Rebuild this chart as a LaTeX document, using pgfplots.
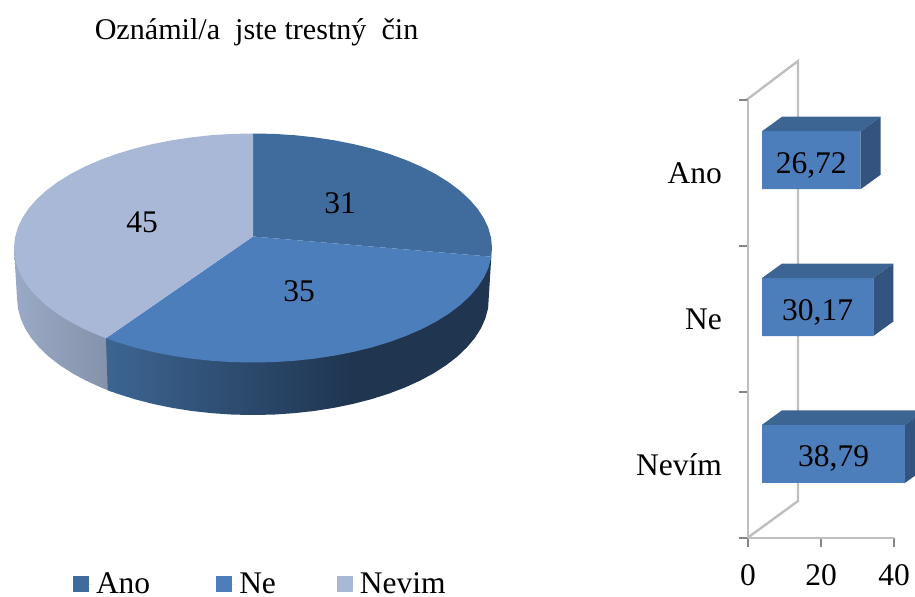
\documentclass[border=0pt]{standalone}
\usepackage{fontspec}
\setmainfont{Liberation Serif}
\usepackage{pgfplots}
\pgfplotsset{compat=1.18}
\newcommand\bigf{\fontsize{15.75pt}{18pt}\selectfont}
\newcommand\titf{\fontsize{15.05pt}{18pt}\selectfont}
\definecolor{ano}{HTML}{3F6B9D}
\definecolor{ne}{HTML}{4C7EBB}
\definecolor{nevim}{HTML}{A9B8D7}
\definecolor{wall}{HTML}{BFBFBF}
\definecolor{tickc}{HTML}{868686}
\definecolor{bartop}{HTML}{3D6594}
\definecolor{barside}{HTML}{345480}
\definecolor{nesA}{HTML}{3D6592}
\definecolor{nesB}{HTML}{1F3550}
\definecolor{nvA}{HTML}{9AA9C6}
\definecolor{nvB}{HTML}{8491A9}
\pgfdeclarehorizontalshading{nesideshade}{100bp}{color(0bp)=(nesA);color(25bp)=(nesA);color(57bp)=(nesB);color(100bp)=(nesB)}
\pgfdeclarehorizontalshading{nvsideshade}{100bp}{color(0bp)=(nvA);color(25bp)=(nvA);color(75bp)=(nvB);color(100bp)=(nvB)}
\begin{document}
\begin{tikzpicture}[font=\bigf]
\path[use as bounding box] (0,0) rectangle (457.5pt,298.5pt);
% ---- pie, walls, title, legend: axis in picture pixels
\begin{axis}[at={(0,0)},anchor=south west,width=457.5pt,height=298.5pt,scale only axis,
  xmin=0,xmax=915,ymin=0,ymax=597,y dir=reverse,hide axis,clip=false,no markers,
  legend columns=3,
  legend style={at={(axis cs:73,584.5)},anchor=west,draw=none,fill=none,font=\bigf,
    inner sep=0pt,outer sep=0pt,
    /tikz/column 2/.style={column sep=31pt},
    /tikz/column 4/.style={column sep=28.5pt}},
  legend image code/.code={\fill[#1,draw=none] (0pt,-4pt) rectangle (8pt,4pt);\path (0pt,0pt) -- (9.5pt,0pt);},
  legend cell align=left]
% side faces
\addplot[forget plot,draw=none,shade,shading=nvsideshade] coordinates {
(112,338.2)(112,392)(107.7,390.2)(101.3,387.6)(86.1,380.7)(72.2,373.2)(59.7,365.1)(48.6,356.5)(39.1,347.4)(31.2,338)(25,328.3)(20.6,318.3)(17.9,308.2)(17,298)(14,248)};
\addplot[forget plot,draw=none,shade,shading=nesideshade] coordinates {
(491.3,256.7)(488.1,308.2)(485.4,318.3)(481,328.3)(474.8,338)(466.9,347.4)(457.4,356.5)(446.3,365.1)(433.8,373.2)(419.9,380.7)(404.7,387.6)(388.4,393.8)(371,399.3)(352.7,404)(333.7,407.9)(314.1,411)(294,413.2)(273.6,414.6)(253,415)(232.4,414.6)(212,413.2)(191.9,411)(172.3,407.9)(153.3,404)(135,399.3)(117.6,393.8)(107.7,390.2)(106,338.2)};
% top faces
\addplot[draw=none,fill=ano] coordinates {
(253,236.5)(253,133.5)(273.8,133.9)(294.5,135.2)(314.9,137.4)(334.7,140.4)(354,144.2)(372.5,148.8)(390.1,154.2)(406.6,160.3)(422,167)(436.1,174.4)(448.8,182.3)(460,190.75)(469.6,199.6)(477.6,208.8)(483.9,218.4)(488.4,228.1)(491.1,238)(492,248)(491.3,256.7)};
\addlegendentry{Ano}
\addplot[draw=none,fill=ne] coordinates {
(253,236.5)(491.3,256.7)(491.1,258)(488.4,267.9)(483.9,277.6)(477.6,287.2)(469.6,296.4)(460,305.25)(448.8,313.7)(436.1,321.6)(422,329)(406.6,335.7)(390.1,341.8)(372.5,347.2)(354,351.8)(334.7,355.6)(314.9,358.6)(294.5,360.8)(273.8,362.1)(253,362.5)(232.2,362.1)(211.5,360.8)(191.1,358.6)(171.3,355.6)(152,351.8)(133.5,347.2)(115.9,341.8)(106,338.2)};
\addlegendentry{Ne}
\addplot[draw=none,fill=nevim] coordinates {
(253,236.5)(106,338.2)(99.4,335.7)(84,329)(69.9,321.6)(57.2,313.7)(46,305.25)(36.4,296.4)(28.4,287.2)(22.1,277.6)(17.6,267.9)(14.9,258)(14,248)(14.9,238)(17.6,228.1)(22.1,218.4)(28.4,208.8)(36.4,199.6)(46,190.75)(57.2,182.3)(69.9,174.4)(84,167)(99.4,160.3)(115.9,154.2)(133.5,148.8)(152,144.2)(171.3,140.4)(191.1,137.4)(211.5,135.2)(232.2,133.9)(253,133.5)};
\addlegendentry{Nevim}
% 3D walls of the bar chart
\addplot[forget plot,draw=wall,line width=1.2pt] coordinates {(747,99.5)(798,61)(798,501)(748,537.5)};
% texts
\node[font=\titf,anchor=base] at (axis cs:256.5,40) {Oznámil/a\hspace{0.25em} jste trestný\hspace{0.25em} čin};
\node at (axis cs:340,203) {31};
\node at (axis cs:299,291.5) {35};
\node at (axis cs:142,222) {45};
\end{axis}
% ---- visible axes of the bar chart
\begin{axis}[at={(374pt,29.5pt)},anchor=south west,width=73pt,height=219pt,scale only axis,
  xmin=0,xmax=40,ymin=-0.5,ymax=2.5,
  axis x line=bottom,axis y line=left,
  axis line style={-,draw=wall,line width=1.2pt},
  xtick={0,20,40},ytick={0,1,2},yticklabels={Nevím,Ne,Ano},
  minor ytick={-0.5,0.5,1.5,2.5},
  tick align=outside,major tick length=4.5pt,minor tick length=4.5pt,
  major x tick style={draw=tickc,line width=0.7pt},
  major y tick style={draw=none},
  minor y tick style={draw=tickc,line width=0.7pt},
  /pgf/number format/assume math mode=true,
  tick label style={font=\bigf},
  xticklabel style={yshift=-5pt},
  yticklabel style={xshift=-5pt}]
\end{axis}
% ---- bars
\begin{axis}[at={(381pt,28.5pt)},anchor=south west,width=76.5pt,height=240pt,scale only axis,
  xmin=0,xmax=41.46,ymin=-0.587,ymax=2.683,hide axis,xbar,bar shift=0pt,bar width=29pt]
\addplot[draw=none,fill=ne] coordinates {(26.72,2)(30.17,1)(38.79,0)};
\end{axis}
\begin{axis}[at={(381pt,28.5pt)},anchor=south west,width=76.5pt,height=240pt,scale only axis,
  xmin=0,xmax=41.46,ymin=-0.587,ymax=2.683,hide axis,no markers]
\addplot[draw=none,fill=bartop] coordinates {(0,2.1975)(26.72,2.1975)(32.14,2.2963)(5.42,2.2963)};
\addplot[draw=none,fill=barside] coordinates {(26.72,2.1975)(32.14,2.2963)(32.14,1.9013)(26.72,1.8025)};
\addplot[draw=none,fill=bartop] coordinates {(0,1.1975)(30.17,1.1975)(35.59,1.2963)(5.42,1.2963)};
\addplot[draw=none,fill=barside] coordinates {(30.17,1.1975)(35.59,1.2963)(35.59,0.9013)(30.17,0.8025)};
\addplot[draw=none,fill=bartop] coordinates {(0,0.1975)(38.79,0.1975)(44.21,0.2963)(5.42,0.2963)};
\addplot[draw=none,fill=barside] coordinates {(38.79,0.1975)(44.21,0.2963)(44.21,-0.0987)(38.79,-0.1975)};
\node[anchor=base,yshift=-6.5pt] at (axis cs:13.36,2) {26,72};
\node[anchor=base,yshift=-6.5pt] at (axis cs:15.08,1) {30,17};
\node[anchor=base,yshift=-6.5pt] at (axis cs:19.4,0) {38,79};
\end{axis}
\end{tikzpicture}
\end{document}
